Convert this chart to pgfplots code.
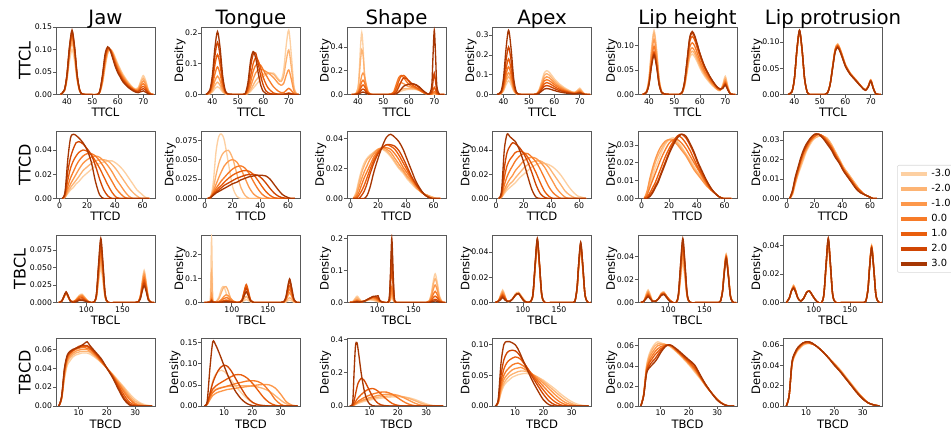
\documentclass[border=0pt]{standalone}
\usepackage{fontspec}
\setmainfont{DejaVu Sans}
\usepackage{pgfplots}
\usepackage{pgfplotstable}
\pgfplotsset{compat=1.18}
\definecolor{o1}{HTML}{FDD0A2}
\definecolor{o2}{HTML}{FDB474}
\definecolor{o3}{HTML}{FD984B}
\definecolor{o4}{HTML}{F77B28}
\definecolor{o5}{HTML}{E95E0D}
\definecolor{o6}{HTML}{D04502}
\definecolor{o7}{HTML}{A63603}

\pgfplotsset{
  kde/.style={scale only axis,width=74.25pt,height=50.6pt,anchor=north west,
    axis line style={draw=black!65,line width=0.6pt},
    tick align=outside,xtick pos=bottom,ytick pos=left,major tick length=2.3pt,
    tick style={draw=black!65,line width=0.5pt},
    tick label style={font=\fontsize{5.8}{6.5}\selectfont,inner sep=0.5pt},
    /pgf/number format/assume math mode=true,
    label style={font=\fontsize{8.7}{10}\selectfont},
    xlabel style={inner sep=1pt,yshift=-1pt},
    ylabel style={inner sep=1pt,yshift=-2pt},
    title style={font=\fontsize{14.8}{17}\selectfont,inner sep=1pt,text depth=2.5pt,yshift=-8pt},
    ymin=0,scaled y ticks=false,scaled x ticks=false,
    yticklabel style={/pgf/number format/.cd,fixed,fixed zerofill,precision=2},
    xticklabel style={/pgf/number format/.cd,fixed,precision=0},
    ylabel=Density,
    every axis plot/.append style={line width=1pt,mark=none,smooth},
    cycle list={{o1},{o2},{o3},{o4},{o5},{o6},{o7}}},
  r1/.style={xmin=35.7,xmax=74.6,xtick={40,50,60,70},xlabel=TTCL},
  r2/.style={xmin=-2.5,xmax=69,xtick={0,20,40,60},xlabel=TTCD},
  r3/.style={xmin=58,xmax=195,xtick={100,150},xlabel=TBCL},
  r4/.style={xmin=2,xmax=37,xtick={10,20,30},xlabel=TBCD},
  p1/.style={yticklabel style={/pgf/number format/precision=1}},
  p3/.style={yticklabel style={/pgf/number format/precision=3}},
  rowlab/.style={ylabel={#1},ylabel style={font=\fontsize{12}{14}\selectfont,yshift=3.25pt}},
}

% ---------- row 1: TTCL ----------
\pgfplotstableread{
x c1 c2 c3 c4 c5 c6 c7
37.5 0 0 0 0 0 0 0
39 0.007 0.008 0.009 0.009 0.009 0.01 0.01
40 0.031 0.035 0.038 0.04 0.041 0.043 0.044
41 0.074 0.086 0.093 0.097 0.1 0.104 0.106
42 0.1 0.115 0.125 0.13 0.135 0.14 0.143
43 0.074 0.086 0.093 0.097 0.1 0.104 0.106
44 0.031 0.035 0.038 0.04 0.041 0.043 0.044
45 0.007 0.008 0.009 0.009 0.009 0.01 0.01
46 0.001 0.001 0.001 0.001 0.001 0.001 0.001
48 0 0 0 0 0 0 0
52 0 0 0 0 0 0 0
53 0.005 0.006 0.007 0.008 0.008 0.009 0.01
54 0.025 0.028 0.031 0.034 0.038 0.041 0.045
55 0.06 0.065 0.07 0.075 0.08 0.085 0.09
56 0.09 0.093 0.096 0.099 0.101 0.104 0.106
57 0.1 0.1 0.1 0.1 0.1 0.099 0.098
58 0.095 0.093 0.091 0.089 0.086 0.083 0.08
59 0.082 0.079 0.076 0.073 0.069 0.066 0.062
60 0.068 0.065 0.062 0.058 0.055 0.051 0.048
61 0.056 0.053 0.05 0.047 0.044 0.041 0.038
62 0.045 0.042 0.04 0.037 0.034 0.031 0.028
64 0.028 0.026 0.024 0.022 0.02 0.018 0.016
66 0.015 0.014 0.013 0.012 0.011 0.01 0.008
67 0.012 0.011 0.01 0.009 0.008 0.007 0.005
68 0.015 0.013 0.011 0.009 0.007 0.006 0.004
69 0.03 0.026 0.022 0.018 0.014 0.01 0.006
70 0.042 0.036 0.03 0.024 0.018 0.013 0.008
71 0.03 0.026 0.022 0.017 0.013 0.009 0.005
72 0.01 0.009 0.007 0.006 0.004 0.003 0.001
73 0.001 0.001 0.001 0.001 0 0 0
74 0 0 0 0 0 0 0
}\JawA
\pgfplotstableread{
x c1 c2 c3 c4 c5 c6 c7
37.5 0 0 0 0 0 0 0
39 0.002 0.003 0.004 0.006 0.009 0.012 0.014
40 0.008 0.012 0.018 0.028 0.04 0.052 0.063
41 0.019 0.03 0.045 0.067 0.097 0.126 0.153
42 0.025 0.04 0.06 0.09 0.13 0.17 0.205
43 0.019 0.03 0.045 0.067 0.097 0.126 0.153
44 0.008 0.012 0.018 0.028 0.04 0.052 0.063
45 0.002 0.003 0.004 0.006 0.009 0.012 0.014
46 0 0 0 0.001 0.001 0.002 0.002
48 0 0 0 0 0 0 0
52 0 0 0 0 0 0 0
53 0 0 0 0.001 0.002 0.003 0.005
54 0.003 0.005 0.008 0.012 0.02 0.03 0.04
55 0.01 0.015 0.025 0.04 0.06 0.09 0.11
56 0.02 0.03 0.05 0.075 0.1 0.13 0.14
57 0.03 0.045 0.07 0.095 0.12 0.135 0.12
58 0.04 0.055 0.08 0.1 0.11 0.1 0.07
59 0.05 0.062 0.082 0.095 0.085 0.06 0.03
60 0.058 0.066 0.08 0.08 0.055 0.03 0.01
61 0.064 0.068 0.075 0.065 0.035 0.012 0.003
62 0.068 0.07 0.07 0.05 0.02 0.005 0
64 0.07 0.066 0.055 0.025 0.005 0.001 0
66 0.05 0.046 0.035 0.01 0.001 0 0
67 0.046 0.042 0.03 0.006 0.001 0 0
68 0.08 0.06 0.036 0.006 0.001 0 0
69 0.16 0.11 0.062 0.013 0.003 0.002 0.001
70 0.21 0.145 0.08 0.02 0.005 0.003 0.002
71 0.13 0.09 0.05 0.013 0.003 0.002 0.001
72 0.03 0.022 0.012 0.003 0 0 0
73 0.003 0.002 0.001 0 0 0 0
74 0 0 0 0 0 0 0
}\TonA
\pgfplotstableread{
x c1 c2 c3 c4 c5 c6 c7
37.5 0 0 0 0 0 0 0
39 0.001 0.002 0.002 0.001 0.001 0 0
40 0.052 0.051 0.024 0.016 0.011 0.006 0.003
40.5 0.187 0.148 0.059 0.039 0.026 0.015 0.007
41 0.403 0.285 0.109 0.073 0.049 0.027 0.012
41.5 0.52 0.376 0.159 0.106 0.071 0.04 0.018
42 0.403 0.334 0.18 0.12 0.08 0.045 0.02
42.5 0.187 0.201 0.159 0.106 0.071 0.04 0.018
43 0.052 0.084 0.109 0.073 0.049 0.027 0.012
44 0.001 0.004 0.024 0.016 0.011 0.006 0.003
45 0 0 0.002 0.001 0.001 0 0
48 0 0 0 0 0 0 0
52 0 0 0 0 0 0 0
53 0.001 0.001 0.002 0.004 0.002 0 0
54 0.002 0.004 0.01 0.02 0.01 0.002 0
55 0.008 0.015 0.04 0.08 0.05 0.02 0.005
56 0.018 0.03 0.08 0.14 0.11 0.06 0.02
57 0.028 0.042 0.1 0.16 0.155 0.11 0.045
58 0.035 0.048 0.09 0.14 0.16 0.14 0.07
59 0.04 0.05 0.075 0.11 0.14 0.135 0.08
60 0.042 0.05 0.065 0.085 0.11 0.115 0.085
61 0.043 0.05 0.06 0.07 0.085 0.095 0.09
62 0.043 0.048 0.055 0.06 0.07 0.085 0.088
63 0.04 0.043 0.048 0.05 0.058 0.075 0.08
64 0.035 0.035 0.038 0.038 0.045 0.06 0.065
65 0.025 0.024 0.025 0.025 0.03 0.042 0.045
66 0.015 0.013 0.013 0.012 0.015 0.022 0.025
67 0.007 0.005 0.005 0.005 0.006 0.008 0.01
68 0.003 0.002 0.002 0.001 0.002 0.002 0.003
69 0.001 0.001 0.002 0.003 0.008 0.024 0.073
69.5 0.002 0.004 0.007 0.015 0.036 0.109 0.328
70 0.003 0.006 0.012 0.025 0.06 0.18 0.54
70.5 0.002 0.004 0.007 0.015 0.036 0.109 0.328
71 0.001 0.001 0.002 0.003 0.008 0.024 0.073
72 0 0 0 0 0 0 0
73 0 0 0 0 0 0 0
74 0 0 0 0 0 0 0
}\ShaA
\pgfplotstableread{
x c1 c2 c3 c4 c5 c6 c7
37.5 0 0 0 0 0 0 0
39 0.003 0.004 0.005 0.006 0.008 0.011 0.014
40 0.017 0.022 0.027 0.035 0.045 0.06 0.081
41 0.049 0.064 0.078 0.099 0.127 0.17 0.23
42 0.07 0.09 0.11 0.14 0.18 0.24 0.325
43 0.049 0.064 0.078 0.099 0.127 0.17 0.23
44 0.017 0.022 0.027 0.035 0.045 0.06 0.081
45 0.003 0.004 0.005 0.006 0.008 0.011 0.014
46 0 0 0 0.001 0.001 0.001 0.001
48 0 0 0 0 0 0 0
52 0 0 0 0 0 0 0
53 0.004 0.003 0.003 0.002 0.002 0.001 0.001
54 0.024 0.021 0.018 0.015 0.012 0.009 0.006
55 0.066 0.058 0.05 0.041 0.033 0.025 0.017
56 0.108 0.095 0.081 0.068 0.054 0.041 0.027
57 0.12 0.105 0.09 0.075 0.06 0.045 0.03
58 0.112 0.098 0.084 0.07 0.056 0.042 0.028
59 0.096 0.084 0.072 0.06 0.048 0.036 0.024
60 0.079 0.069 0.059 0.05 0.04 0.03 0.02
61 0.065 0.057 0.049 0.041 0.032 0.024 0.016
62 0.053 0.046 0.04 0.033 0.026 0.02 0.013
64 0.034 0.029 0.025 0.021 0.017 0.013 0.008
66 0.019 0.017 0.014 0.012 0.01 0.007 0.005
67 0.013 0.012 0.01 0.008 0.007 0.005 0.003
68 0.011 0.01 0.008 0.007 0.005 0.004 0.003
69 0.02 0.017 0.014 0.011 0.008 0.006 0.004
70 0.032 0.027 0.022 0.016 0.012 0.009 0.006
71 0.015 0.012 0.01 0.007 0.005 0.004 0.003
72 0.002 0.001 0.001 0.001 0 0 0
73 0 0 0 0 0 0 0
74 0 0 0 0 0 0 0
}\ApxA
\pgfplotstableread{
x c1 c2 c3 c4 c5 c6 c7
37.5 0 0 0 0 0 0 0
39 0.006 0.006 0.005 0.004 0.004 0.004 0.004
40 0.032 0.031 0.028 0.024 0.022 0.021 0.02
41 0.092 0.088 0.079 0.069 0.062 0.059 0.057
42 0.13 0.125 0.112 0.098 0.087 0.083 0.08
43 0.092 0.088 0.079 0.069 0.062 0.059 0.057
44 0.032 0.031 0.028 0.024 0.022 0.021 0.02
45 0.006 0.006 0.005 0.004 0.004 0.004 0.004
46 0.001 0.001 0.001 0.001 0.001 0.001 0.001
48 0 0 0 0 0 0 0
52 0 0 0 0 0 0 0
53 0.002 0.003 0.003 0.003 0.004 0.004 0.004
54 0.016 0.018 0.019 0.021 0.024 0.025 0.026
55 0.045 0.048 0.052 0.058 0.065 0.069 0.07
56 0.074 0.079 0.086 0.095 0.106 0.113 0.115
57 0.082 0.088 0.095 0.105 0.118 0.125 0.128
58 0.076 0.082 0.088 0.098 0.11 0.116 0.119
59 0.066 0.07 0.076 0.084 0.094 0.1 0.102
60 0.054 0.058 0.063 0.069 0.078 0.083 0.084
61 0.044 0.048 0.051 0.057 0.064 0.068 0.069
62 0.036 0.039 0.042 0.046 0.052 0.055 0.056
64 0.023 0.025 0.027 0.029 0.033 0.035 0.036
66 0.013 0.014 0.015 0.017 0.019 0.02 0.02
67 0.009 0.01 0.01 0.012 0.013 0.014 0.014
68 0.008 0.008 0.009 0.009 0.01 0.011 0.011
69 0.02 0.018 0.016 0.015 0.014 0.013 0.012
70 0.037 0.033 0.029 0.026 0.023 0.021 0.019
71 0.017 0.015 0.013 0.012 0.011 0.01 0.009
72 0.001 0.001 0.001 0.001 0.001 0.001 0.001
73 0 0 0 0 0 0 0
74 0 0 0 0 0 0 0
}\LhA
\pgfplotstableread{
x c1 c2 c3 c4 c5 c6 c7
37.5 0 0 0 0 0 0 0
39 0.005 0.005 0.005 0.005 0.005 0.005 0.005
40 0.029 0.03 0.03 0.03 0.03 0.03 0.031
41 0.083 0.084 0.085 0.086 0.086 0.086 0.087
42 0.118 0.119 0.12 0.121 0.122 0.122 0.123
43 0.083 0.084 0.085 0.086 0.086 0.086 0.087
44 0.029 0.03 0.03 0.03 0.03 0.03 0.031
45 0.005 0.005 0.005 0.005 0.005 0.005 0.005
46 0 0 0 0 0 0 0
48 0 0 0 0 0 0 0
52 0 0 0 0 0 0 0
53 0.003 0.003 0.003 0.003 0.003 0.003 0.003
54 0.019 0.019 0.019 0.019 0.019 0.018 0.018
55 0.053 0.053 0.052 0.052 0.051 0.05 0.05
56 0.087 0.086 0.086 0.085 0.084 0.082 0.081
57 0.097 0.096 0.095 0.094 0.093 0.091 0.09
58 0.087 0.086 0.086 0.085 0.084 0.082 0.081
59 0.073 0.072 0.071 0.071 0.07 0.068 0.068
60 0.058 0.058 0.057 0.056 0.056 0.055 0.054
61 0.049 0.048 0.048 0.047 0.047 0.046 0.045
62 0.041 0.04 0.04 0.039 0.039 0.038 0.038
64 0.029 0.029 0.029 0.028 0.028 0.027 0.027
66 0.017 0.017 0.017 0.017 0.017 0.016 0.016
67 0.012 0.012 0.011 0.011 0.011 0.011 0.011
68 0.009 0.009 0.009 0.009 0.009 0.008 0.008
69 0.016 0.016 0.015 0.015 0.015 0.015 0.014
70 0.028 0.028 0.027 0.027 0.026 0.026 0.025
71 0.013 0.013 0.012 0.012 0.012 0.012 0.011
72 0.001 0.001 0.001 0.001 0.001 0.001 0.001
73 0 0 0 0 0 0 0
74 0 0 0 0 0 0 0
}\LpA

% ---------- row 2: TTCD ----------
\pgfplotstableread{
x c1 c2 c3 c4 c5 c6 c7
2 0 0 0 0 0 0 0
4 0.001 0.001 0.001 0.002 0.003 0.004 0.005
6 0.004 0.005 0.007 0.01 0.015 0.022 0.032
8 0.007 0.009 0.012 0.017 0.025 0.034 0.05
10 0.009 0.012 0.016 0.022 0.031 0.041 0.053
12 0.012 0.015 0.02 0.027 0.035 0.046 0.052
14 0.014 0.018 0.024 0.031 0.038 0.047 0.05
17 0.018 0.023 0.029 0.035 0.04 0.045 0.046
20 0.021 0.026 0.032 0.037 0.039 0.041 0.04
23 0.024 0.029 0.034 0.037 0.036 0.036 0.03
26 0.027 0.031 0.035 0.035 0.031 0.027 0.014
29 0.029 0.032 0.034 0.031 0.025 0.016 0.003
32 0.03 0.032 0.031 0.026 0.018 0.007 0
35 0.031 0.031 0.027 0.02 0.011 0.002 0
38 0.031 0.028 0.022 0.014 0.005 0 0
41 0.029 0.024 0.016 0.008 0.001 0 0
44 0.026 0.019 0.011 0.004 0 0 0
47 0.022 0.014 0.006 0.001 0 0 0
50 0.017 0.009 0.002 0 0 0 0
53 0.012 0.005 0 0 0 0 0
56 0.007 0.002 0 0 0 0 0
59 0.004 0 0 0 0 0 0
62 0.001 0 0 0 0 0 0
65 0 0 0 0 0 0 0
}\JawB
\pgfplotstableread{
x c1 c2 c3 c4 c5 c6 c7
2 0 0 0 0 0 0 0
4 0 0.002 0.002 0.001 0.001 0.001 0.001
6 0.02 0.012 0.009 0.007 0.006 0.005 0.004
8 0.06 0.03 0.018 0.013 0.01 0.008 0.007
10 0.08 0.045 0.027 0.018 0.014 0.011 0.009
12 0.083 0.055 0.035 0.023 0.017 0.014 0.011
14 0.075 0.06 0.042 0.027 0.021 0.017 0.013
17 0.045 0.062 0.048 0.033 0.026 0.02 0.016
20 0.015 0.052 0.05 0.038 0.03 0.023 0.019
23 0.003 0.032 0.047 0.041 0.033 0.026 0.021
26 0 0.014 0.038 0.042 0.035 0.028 0.024
29 0 0.004 0.026 0.039 0.036 0.03 0.026
32 0 0 0.014 0.032 0.035 0.031 0.028
35 0 0 0.006 0.022 0.031 0.031 0.029
38 0 0 0.002 0.013 0.024 0.03 0.03
41 0 0 0 0.006 0.016 0.026 0.03
44 0 0 0 0.002 0.009 0.02 0.029
47 0 0 0 0 0.004 0.013 0.025
50 0 0 0 0 0.001 0.007 0.018
53 0 0 0 0 0 0.003 0.011
56 0 0 0 0 0 0.001 0.005
59 0 0 0 0 0 0 0.002
62 0 0 0 0 0 0 0
65 0 0 0 0 0 0 0
}\TonB
\pgfplotstableread{
x c1 c2 c3 c4 c5 c6 c7
2 0 0 0 0 0 0 0
4 0.004 0.003 0.002 0.001 0 0 0
6 0.012 0.01 0.007 0.004 0.002 0 0
8 0.019 0.017 0.013 0.009 0.005 0.002 0
10 0.024 0.022 0.018 0.014 0.009 0.005 0
12 0.027 0.026 0.022 0.018 0.014 0.01 0.002
14 0.029 0.028 0.026 0.022 0.019 0.016 0.007
17 0.031 0.031 0.03 0.028 0.026 0.024 0.018
20 0.033 0.033 0.033 0.032 0.031 0.03 0.027
23 0.033 0.033 0.034 0.034 0.034 0.034 0.035
26 0.031 0.032 0.033 0.034 0.036 0.036 0.041
29 0.028 0.029 0.031 0.033 0.035 0.036 0.043
32 0.024 0.025 0.027 0.03 0.033 0.035 0.041
35 0.02 0.021 0.023 0.026 0.029 0.032 0.038
38 0.017 0.018 0.019 0.021 0.024 0.027 0.033
41 0.013 0.014 0.015 0.017 0.019 0.021 0.026
44 0.01 0.011 0.012 0.013 0.014 0.015 0.019
47 0.007 0.008 0.008 0.009 0.01 0.01 0.012
50 0.005 0.005 0.005 0.006 0.006 0.006 0.007
53 0.003 0.003 0.003 0.003 0.003 0.003 0.003
56 0.002 0.002 0.002 0.001 0.001 0.001 0.001
59 0.001 0.001 0 0 0 0 0
62 0 0 0 0 0 0 0
65 0 0 0 0 0 0 0
}\ShaB
\pgfplotstableread{
x c1 c2 c3 c4 c5 c6 c7
2 0 0 0 0 0 0 0
4 0.001 0.001 0.001 0.002 0.003 0.004 0.006
6 0.004 0.005 0.007 0.011 0.017 0.025 0.04
8 0.007 0.009 0.012 0.018 0.027 0.038 0.053
10 0.009 0.012 0.016 0.023 0.032 0.043 0.051
12 0.011 0.014 0.019 0.027 0.035 0.046 0.049
14 0.013 0.017 0.023 0.031 0.038 0.045 0.047
17 0.017 0.021 0.027 0.035 0.039 0.042 0.04
20 0.02 0.025 0.031 0.037 0.038 0.037 0.03
23 0.023 0.028 0.033 0.037 0.034 0.03 0.018
26 0.026 0.03 0.034 0.034 0.028 0.021 0.007
29 0.028 0.031 0.033 0.03 0.021 0.011 0.001
32 0.029 0.031 0.03 0.024 0.013 0.004 0
35 0.029 0.029 0.026 0.017 0.006 0.001 0
38 0.028 0.026 0.02 0.01 0.002 0 0
41 0.026 0.021 0.014 0.005 0 0 0
44 0.023 0.016 0.008 0.002 0 0 0
47 0.019 0.011 0.004 0 0 0 0
50 0.014 0.006 0.001 0 0 0 0
53 0.009 0.003 0 0 0 0 0
56 0.005 0.001 0 0 0 0 0
59 0.002 0 0 0 0 0 0
62 0.001 0 0 0 0 0 0
65 0 0 0 0 0 0 0
}\ApxB
\pgfplotstableread{
x c1 c2 c3 c4 c5 c6 c7
2 0 0 0 0 0 0 0
4 0.002 0.003 0.004 0.002 0.001 0 0
6 0.007 0.009 0.011 0.006 0.003 0.002 0.001
8 0.012 0.015 0.017 0.01 0.006 0.004 0.003
10 0.017 0.02 0.022 0.014 0.009 0.007 0.006
12 0.021 0.024 0.026 0.018 0.013 0.01 0.009
14 0.025 0.027 0.029 0.022 0.017 0.014 0.013
17 0.03 0.031 0.032 0.027 0.023 0.02 0.019
20 0.033 0.033 0.033 0.031 0.028 0.026 0.025
23 0.034 0.033 0.032 0.033 0.032 0.031 0.03
26 0.032 0.031 0.03 0.033 0.035 0.035 0.034
29 0.029 0.028 0.027 0.031 0.034 0.036 0.036
32 0.025 0.025 0.024 0.028 0.031 0.034 0.035
35 0.022 0.021 0.02 0.024 0.027 0.03 0.031
38 0.018 0.017 0.016 0.02 0.022 0.025 0.026
41 0.014 0.014 0.013 0.016 0.017 0.019 0.02
44 0.011 0.011 0.01 0.012 0.013 0.014 0.015
47 0.008 0.008 0.007 0.008 0.009 0.01 0.01
50 0.005 0.005 0.005 0.005 0.005 0.006 0.006
53 0.003 0.003 0.003 0.003 0.003 0.003 0.003
56 0.001 0.001 0.001 0.001 0.001 0.001 0.001
59 0 0 0 0 0 0 0
62 0 0 0 0 0 0 0
65 0 0 0 0 0 0 0
}\LhB
\pgfplotstableread{
x c1 c2 c3 c4 c5 c6 c7
2 0 0 0 0 0 0 0
4 0.002 0.002 0.003 0.003 0.003 0.004 0.004
6 0.007 0.008 0.008 0.009 0.01 0.01 0.011
8 0.012 0.013 0.013 0.014 0.015 0.015 0.016
10 0.016 0.017 0.018 0.019 0.02 0.02 0.021
12 0.02 0.021 0.022 0.023 0.024 0.024 0.025
14 0.024 0.025 0.025 0.026 0.027 0.027 0.028
17 0.028 0.029 0.029 0.03 0.03 0.031 0.031
20 0.031 0.031 0.032 0.032 0.032 0.033 0.033
23 0.032 0.032 0.033 0.033 0.033 0.033 0.033
26 0.032 0.032 0.032 0.032 0.032 0.031 0.031
29 0.031 0.031 0.03 0.03 0.029 0.029 0.028
32 0.028 0.028 0.027 0.027 0.026 0.026 0.025
35 0.024 0.024 0.023 0.023 0.022 0.022 0.021
38 0.02 0.02 0.019 0.019 0.019 0.018 0.018
41 0.016 0.016 0.015 0.015 0.015 0.014 0.014
44 0.013 0.013 0.012 0.012 0.012 0.011 0.011
47 0.01 0.01 0.009 0.009 0.009 0.008 0.008
50 0.007 0.007 0.006 0.006 0.006 0.005 0.005
53 0.004 0.004 0.004 0.004 0.004 0.003 0.003
56 0.002 0.002 0.002 0.002 0.002 0.002 0.002
59 0.001 0.001 0.001 0.001 0.001 0.001 0.001
62 0 0 0 0 0 0 0
65 0 0 0 0 0 0 0
}\LpB

% ---------- row 3: TBCL ----------
\pgfplotstableread{
x c1 c2 c3 c4 c5 c6 c7
62 0 0 0 0 0 0 0
66 0.002 0.002 0.002 0.002 0.002 0.002 0.002
69 0.007 0.008 0.008 0.008 0.008 0.009 0.009
72 0.012 0.013 0.013 0.014 0.014 0.015 0.015
75 0.007 0.008 0.008 0.008 0.008 0.009 0.009
78 0.002 0.002 0.002 0.002 0.002 0.002 0.002
82 0.001 0.001 0.001 0.001 0.001 0 0
86 0.005 0.004 0.004 0.003 0.003 0.002 0.001
90 0.01 0.009 0.008 0.008 0.006 0.004 0.003
94 0.012 0.011 0.01 0.009 0.007 0.005 0.003
98 0.007 0.007 0.006 0.005 0.004 0.003 0.002
102 0.002 0.002 0.002 0.002 0.001 0.001 0.001
106 0 0 0 0 0 0 0
111 0.001 0.001 0.001 0.001 0.001 0.001 0.001
114 0.007 0.008 0.009 0.01 0.011 0.012 0.012
117 0.03 0.035 0.039 0.044 0.049 0.053 0.056
120 0.05 0.058 0.065 0.072 0.08 0.088 0.092
123 0.03 0.035 0.039 0.044 0.049 0.053 0.056
126 0.007 0.008 0.009 0.01 0.011 0.012 0.012
130 0 0 0 0 0 0 0
140 0 0 0 0 0 0 0
160 0 0 0 0 0 0 0
168 0 0 0 0 0 0 0
172 0.001 0.001 0.001 0.001 0.001 0.001 0.001
175 0.011 0.011 0.01 0.009 0.008 0.007 0.006
177 0.028 0.026 0.024 0.022 0.019 0.017 0.015
180 0.046 0.043 0.04 0.036 0.032 0.028 0.024
183 0.028 0.026 0.024 0.022 0.019 0.017 0.015
186 0.006 0.006 0.005 0.005 0.004 0.004 0.003
190 0 0 0 0 0 0 0
194 0 0 0 0 0 0 0
}\JawC
\pgfplotstableread{
x c1 c2 c3 c4 c5 c6 c7
62 0 0 0 0 0 0 0
66 0 0 0 0 0 0 0
69 0.001 0.001 0.002 0.002 0.001 0.001 0.001
70.5 0.027 0.013 0.006 0.004 0.003 0.002 0.001
72 0.268 0.125 0.035 0.015 0.01 0.008 0.005
73.5 0.027 0.013 0.006 0.004 0.003 0.002 0.001
75 0.002 0.002 0.002 0.002 0.001 0.001 0.001
78 0.003 0.002 0.001 0.001 0 0 0
82 0.022 0.015 0.004 0.003 0.001 0.001 0
86 0.06 0.045 0.014 0.01 0.005 0.002 0.001
89 0.066 0.064 0.025 0.016 0.008 0.004 0.002
92 0.041 0.066 0.032 0.02 0.01 0.005 0.003
95 0.015 0.048 0.029 0.018 0.009 0.004 0.002
98 0.003 0.02 0.018 0.011 0.005 0.003 0.002
102 0 0.005 0.006 0.004 0.002 0.001 0.001
106 0 0.001 0.001 0.001 0 0 0
111 0 0 0.001 0.001 0.001 0.001 0
114 0.002 0.003 0.006 0.009 0.01 0.008 0.006
117 0.007 0.015 0.027 0.042 0.046 0.036 0.027
120 0.012 0.025 0.045 0.07 0.075 0.06 0.045
123 0.007 0.015 0.027 0.042 0.046 0.036 0.027
126 0.002 0.003 0.006 0.009 0.01 0.008 0.006
130 0 0 0 0 0 0 0
140 0 0 0 0 0 0 0
160 0 0 0 0 0 0 0
168 0 0 0 0 0 0 0
172 0 0.001 0.001 0.002 0.002 0.003 0.003
175 0.002 0.005 0.01 0.014 0.017 0.022 0.024
177 0.006 0.012 0.024 0.033 0.042 0.053 0.059
180 0.01 0.02 0.04 0.055 0.07 0.088 0.098
183 0.006 0.012 0.024 0.033 0.042 0.053 0.059
186 0.001 0.003 0.005 0.007 0.009 0.012 0.013
190 0 0 0 0 0 0 0
194 0 0 0 0 0 0 0
}\TonC
\pgfplotstableread{
x c1 c2 c3 c4 c5 c6 c7
62 0.001 0.001 0 0 0 0 0
66 0.003 0.002 0.001 0.001 0.001 0 0
69 0.012 0.009 0.006 0.004 0.002 0.002 0.001
72 0.02 0.015 0.01 0.006 0.004 0.003 0.002
75 0.012 0.009 0.006 0.004 0.003 0.002 0.001
78 0.004 0.004 0.003 0.002 0.002 0.002 0.002
82 0.003 0.004 0.004 0.004 0.004 0.004 0.004
86 0.006 0.007 0.008 0.008 0.009 0.009 0.009
90 0.008 0.01 0.011 0.012 0.013 0.014 0.014
94 0.007 0.009 0.012 0.015 0.017 0.018 0.019
98 0.004 0.006 0.009 0.012 0.015 0.018 0.02
101 0.002 0.003 0.005 0.007 0.01 0.014 0.021
104 0.001 0.001 0.002 0.003 0.004 0.005 0.004
110 0 0 0 0 0 0 0
116 0 0.001 0.001 0.001 0.003 0.005 0.006
118 0.006 0.009 0.014 0.021 0.045 0.068 0.083
120 0.015 0.022 0.035 0.05 0.11 0.165 0.202
122 0.006 0.009 0.014 0.021 0.045 0.068 0.083
124 0 0.001 0.001 0.001 0.003 0.005 0.006
130 0 0 0 0 0 0 0
140 0 0 0 0 0 0 0
160 0 0 0 0 0 0 0
168 0 0 0 0 0 0 0
172 0.007 0.005 0.004 0.003 0.001 0.001 0
175 0.032 0.027 0.02 0.013 0.007 0.004 0.002
177 0.062 0.052 0.038 0.024 0.014 0.007 0.003
180 0.09 0.075 0.055 0.035 0.02 0.01 0.005
183 0.062 0.052 0.038 0.024 0.014 0.007 0.003
186 0.021 0.017 0.013 0.008 0.005 0.002 0.001
190 0.002 0.001 0.001 0.001 0 0 0
194 0 0 0 0 0 0 0
}\ShaC
\pgfplotstableread{
x c1 c2 c3 c4 c5 c6 c7
62 0 0 0 0 0 0 0
66 0.001 0.001 0.001 0.001 0.001 0.001 0.001
69 0.006 0.005 0.005 0.004 0.004 0.003 0.002
72 0.01 0.009 0.008 0.007 0.006 0.005 0.004
75 0.006 0.005 0.005 0.004 0.004 0.003 0.002
78 0.001 0.001 0.001 0.001 0.001 0.001 0.001
82 0.001 0.001 0.001 0.001 0.001 0.001 0.001
86 0.003 0.003 0.003 0.003 0.003 0.003 0.003
90 0.007 0.007 0.006 0.006 0.006 0.006 0.006
94 0.008 0.008 0.007 0.007 0.007 0.007 0.007
98 0.005 0.005 0.004 0.004 0.004 0.004 0.004
102 0.002 0.002 0.001 0.001 0.001 0.001 0.001
106 0 0 0 0 0 0 0
111 0.001 0.001 0.001 0.001 0.001 0.001 0.001
114 0.006 0.006 0.006 0.006 0.007 0.007 0.007
117 0.027 0.028 0.029 0.029 0.03 0.03 0.031
120 0.045 0.046 0.047 0.048 0.049 0.05 0.051
123 0.027 0.028 0.029 0.029 0.03 0.03 0.031
126 0.006 0.006 0.006 0.006 0.007 0.007 0.007
130 0 0 0 0 0 0 0
140 0 0 0 0 0 0 0
160 0 0 0 0 0 0 0
168 0 0 0 0 0 0 0
172 0.001 0.001 0.001 0.001 0.001 0.001 0.001
175 0.01 0.011 0.011 0.011 0.011 0.012 0.012
177 0.025 0.026 0.027 0.027 0.028 0.029 0.029
180 0.042 0.043 0.044 0.045 0.046 0.047 0.048
183 0.025 0.026 0.027 0.027 0.028 0.029 0.029
186 0.006 0.006 0.006 0.006 0.006 0.006 0.006
190 0 0 0 0 0 0 0
194 0 0 0 0 0 0 0
}\ApxC
\pgfplotstableread{
x c1 c2 c3 c4 c5 c6 c7
62 0 0 0 0 0 0 0
66 0.001 0.001 0.001 0.001 0.001 0.001 0.001
69 0.007 0.006 0.005 0.005 0.004 0.004 0.003
72 0.011 0.01 0.009 0.008 0.007 0.006 0.005
75 0.007 0.006 0.005 0.005 0.004 0.004 0.003
78 0.002 0.001 0.001 0.001 0.001 0.001 0.001
82 0.001 0.001 0.001 0.001 0.001 0.001 0.001
86 0.003 0.003 0.003 0.003 0.003 0.003 0.003
90 0.008 0.008 0.007 0.007 0.007 0.006 0.006
94 0.009 0.009 0.008 0.008 0.008 0.007 0.007
98 0.005 0.005 0.005 0.005 0.005 0.004 0.004
102 0.002 0.002 0.002 0.002 0.002 0.001 0.001
106 0 0 0 0 0 0 0
111 0 0 0 0 0 0 0
114 0.005 0.005 0.006 0.006 0.007 0.007 0.008
117 0.021 0.023 0.025 0.028 0.03 0.033 0.034
120 0.035 0.038 0.042 0.046 0.05 0.054 0.056
123 0.021 0.023 0.025 0.028 0.03 0.033 0.034
126 0.005 0.005 0.006 0.006 0.007 0.007 0.008
130 0 0 0 0 0 0 0
140 0 0 0 0 0 0 0
160 0 0 0 0 0 0 0
168 0 0 0 0 0 0 0
172 0.001 0.001 0.001 0.001 0.001 0.001 0.001
175 0.01 0.01 0.01 0.01 0.01 0.01 0.009
177 0.025 0.025 0.025 0.024 0.024 0.024 0.023
180 0.042 0.042 0.041 0.04 0.04 0.039 0.038
183 0.025 0.025 0.025 0.024 0.024 0.024 0.023
186 0.006 0.006 0.006 0.005 0.005 0.005 0.005
190 0 0 0 0 0 0 0
194 0 0 0 0 0 0 0
}\LhC
\pgfplotstableread{
x c1 c2 c3 c4 c5 c6 c7
62 0 0 0 0 0 0 0
66 0.003 0.003 0.003 0.003 0.003 0.003 0.003
69 0.008 0.008 0.008 0.008 0.008 0.008 0.008
72 0.012 0.012 0.011 0.011 0.011 0.01 0.01
75 0.008 0.008 0.008 0.008 0.008 0.007 0.007
78 0.003 0.003 0.003 0.003 0.003 0.003 0.003
82 0.001 0.001 0.001 0.001 0.001 0.001 0.001
86 0.003 0.003 0.003 0.003 0.003 0.003 0.003
90 0.007 0.007 0.007 0.007 0.007 0.007 0.007
94 0.008 0.008 0.008 0.008 0.008 0.008 0.008
98 0.005 0.005 0.005 0.005 0.005 0.005 0.005
102 0.002 0.002 0.002 0.002 0.002 0.002 0.002
106 0 0 0 0 0 0 0
111 0 0 0 0 0 0 0
114 0.005 0.006 0.006 0.006 0.006 0.006 0.006
117 0.024 0.025 0.025 0.026 0.027 0.027 0.027
120 0.04 0.041 0.042 0.043 0.044 0.045 0.045
123 0.024 0.025 0.025 0.026 0.027 0.027 0.027
126 0.005 0.006 0.006 0.006 0.006 0.006 0.006
130 0 0 0 0 0 0 0
140 0 0 0 0 0 0 0
160 0 0 0 0 0 0 0
168 0 0 0 0 0 0 0
172 0.001 0.001 0.001 0.001 0.001 0.001 0.001
175 0.01 0.01 0.01 0.01 0.01 0.009 0.009
177 0.024 0.024 0.024 0.024 0.024 0.023 0.023
180 0.04 0.04 0.039 0.039 0.039 0.038 0.038
183 0.024 0.024 0.024 0.024 0.024 0.023 0.023
186 0.005 0.005 0.005 0.005 0.005 0.005 0.005
190 0 0 0 0 0 0 0
194 0 0 0 0 0 0 0
}\LpC

% ---------- row 4: TBCD ----------
\pgfplotstableread{
x c1 c2 c3 c4 c5 c6 c7
3 0 0 0 0 0 0 0
4 0.007 0.008 0.008 0.009 0.009 0.01 0.01
5 0.029 0.031 0.033 0.035 0.037 0.039 0.04
6 0.043 0.046 0.048 0.05 0.052 0.053 0.054
7 0.048 0.051 0.053 0.055 0.056 0.057 0.058
8 0.052 0.054 0.056 0.058 0.059 0.059 0.06
9 0.054 0.056 0.058 0.06 0.061 0.061 0.061
10 0.055 0.057 0.059 0.061 0.062 0.063 0.062
11 0.056 0.058 0.06 0.062 0.063 0.064 0.064
12 0.056 0.058 0.06 0.062 0.063 0.064 0.066
13 0.056 0.058 0.06 0.061 0.063 0.064 0.068
14 0.055 0.057 0.058 0.06 0.061 0.062 0.064
16 0.051 0.052 0.053 0.054 0.055 0.056 0.057
18 0.046 0.046 0.047 0.047 0.048 0.049 0.05
20 0.04 0.04 0.04 0.04 0.04 0.04 0.04
22 0.034 0.033 0.033 0.032 0.032 0.031 0.03
24 0.027 0.026 0.025 0.024 0.022 0.02 0.018
26 0.02 0.019 0.017 0.015 0.012 0.009 0.007
28 0.013 0.011 0.009 0.007 0.004 0.002 0.001
30 0.007 0.005 0.003 0.002 0.001 0 0
32 0.003 0.002 0.001 0 0 0 0
34 0.001 0 0 0 0 0 0
36 0 0 0 0 0 0 0
}\JawD
\pgfplotstableread{
x c1 c2 c3 c4 c5 c6 c7
3 0 0 0 0 0 0 0
4 0.005 0.004 0.003 0.004 0.005 0.006 0.01
5 0.03 0.02 0.015 0.02 0.025 0.03 0.09
6 0.06 0.033 0.025 0.032 0.04 0.055 0.152
7 0.075 0.039 0.03 0.038 0.047 0.072 0.145
8 0.082 0.042 0.033 0.041 0.052 0.085 0.13
9 0.085 0.044 0.035 0.043 0.056 0.093 0.113
10 0.082 0.045 0.037 0.045 0.06 0.097 0.095
11 0.075 0.046 0.039 0.047 0.064 0.095 0.078
12 0.066 0.047 0.04 0.049 0.068 0.088 0.062
13 0.057 0.047 0.041 0.051 0.071 0.078 0.048
14 0.048 0.048 0.042 0.053 0.074 0.066 0.035
16 0.032 0.048 0.044 0.056 0.074 0.043 0.017
18 0.018 0.048 0.046 0.059 0.067 0.022 0.006
20 0.008 0.047 0.048 0.06 0.054 0.009 0.001
22 0.003 0.045 0.05 0.058 0.037 0.003 0
24 0.001 0.041 0.051 0.05 0.02 0.001 0
26 0 0.035 0.05 0.035 0.008 0 0
28 0 0.025 0.043 0.016 0.002 0 0
30 0 0.014 0.028 0.004 0 0 0
32 0 0.005 0.01 0 0 0 0
34 0 0.001 0.002 0 0 0 0
36 0 0 0 0 0 0 0
}\TonD
\pgfplotstableread{
x c1 c2 c3 c4 c5 c6 c7
3 0 0 0 0 0 0 0
4 0.001 0.001 0.002 0.002 0.003 0.005 0.02
4.5 0.004 0.005 0.006 0.008 0.012 0.03 0.2
5 0.008 0.01 0.012 0.015 0.025 0.07 0.36
5.5 0.012 0.015 0.018 0.022 0.04 0.11 0.38
6 0.016 0.02 0.023 0.03 0.05 0.14 0.33
7 0.022 0.027 0.031 0.04 0.068 0.165 0.2
8 0.027 0.033 0.038 0.05 0.083 0.155 0.1
9 0.031 0.038 0.044 0.058 0.095 0.125 0.04
10 0.035 0.042 0.05 0.065 0.102 0.09 0.012
11 0.039 0.046 0.055 0.071 0.105 0.058 0.002
12 0.042 0.05 0.059 0.076 0.1 0.033 0
13 0.045 0.053 0.063 0.08 0.088 0.016 0
14 0.047 0.055 0.066 0.083 0.072 0.007 0
16 0.051 0.059 0.07 0.083 0.04 0.001 0
18 0.054 0.061 0.07 0.07 0.015 0 0
20 0.055 0.06 0.064 0.048 0.004 0 0
22 0.054 0.055 0.05 0.026 0 0 0
24 0.049 0.045 0.033 0.01 0 0 0
26 0.039 0.032 0.017 0.002 0 0 0
28 0.026 0.018 0.006 0 0 0 0
30 0.013 0.007 0.001 0 0 0 0
32 0.004 0.002 0 0 0 0 0
34 0.001 0 0 0 0 0 0
36 0 0 0 0 0 0 0
}\ShaD
\pgfplotstableread{
x c1 c2 c3 c4 c5 c6 c7
3 0 0 0 0 0 0 0
4 0.004 0.005 0.005 0.006 0.007 0.008 0.01
5 0.021 0.024 0.028 0.033 0.04 0.05 0.07
6 0.033 0.037 0.043 0.05 0.06 0.075 0.1
7 0.039 0.044 0.05 0.058 0.07 0.086 0.105
8 0.043 0.049 0.055 0.063 0.075 0.09 0.105
9 0.047 0.052 0.059 0.067 0.078 0.091 0.103
10 0.049 0.054 0.061 0.069 0.08 0.09 0.1
11 0.051 0.056 0.062 0.07 0.079 0.086 0.093
12 0.052 0.057 0.063 0.068 0.076 0.08 0.083
13 0.053 0.057 0.061 0.065 0.07 0.072 0.072
14 0.053 0.056 0.058 0.061 0.064 0.064 0.062
16 0.051 0.052 0.052 0.052 0.051 0.048 0.042
18 0.047 0.047 0.045 0.042 0.038 0.033 0.025
20 0.042 0.04 0.037 0.032 0.026 0.019 0.01
22 0.035 0.032 0.028 0.022 0.015 0.008 0.002
24 0.028 0.024 0.019 0.013 0.007 0.002 0
26 0.02 0.016 0.011 0.006 0.002 0 0
28 0.013 0.009 0.005 0.002 0 0 0
30 0.007 0.004 0.002 0 0 0 0
32 0.003 0.001 0 0 0 0 0
34 0.001 0 0 0 0 0 0
36 0 0 0 0 0 0 0
}\ApxD
\pgfplotstableread{
x c1 c2 c3 c4 c5 c6 c7
3 0 0 0 0 0 0 0
4 0.012 0.012 0.011 0.011 0.011 0.01 0.01
5 0.04 0.039 0.037 0.036 0.035 0.033 0.032
6 0.052 0.05 0.048 0.045 0.043 0.04 0.038
7 0.058 0.056 0.053 0.05 0.047 0.044 0.041
8 0.062 0.06 0.057 0.054 0.051 0.047 0.044
9 0.064 0.062 0.06 0.057 0.054 0.051 0.048
10 0.063 0.062 0.061 0.059 0.057 0.055 0.053
11 0.062 0.062 0.061 0.06 0.059 0.058 0.057
12 0.061 0.061 0.061 0.061 0.061 0.06 0.06
13 0.06 0.06 0.06 0.061 0.061 0.061 0.061
14 0.058 0.058 0.059 0.059 0.06 0.06 0.06
16 0.053 0.053 0.054 0.054 0.055 0.055 0.056
18 0.047 0.048 0.048 0.049 0.049 0.05 0.051
20 0.041 0.042 0.042 0.043 0.044 0.045 0.046
22 0.034 0.035 0.036 0.037 0.038 0.04 0.041
24 0.027 0.028 0.028 0.029 0.029 0.03 0.031
26 0.02 0.02 0.02 0.02 0.021 0.021 0.021
28 0.013 0.013 0.013 0.013 0.013 0.013 0.013
30 0.007 0.007 0.007 0.007 0.006 0.006 0.006
32 0.002 0.002 0.002 0.002 0.002 0.002 0.002
34 0 0 0 0 0 0 0
36 0 0 0 0 0 0 0
}\LhD
\pgfplotstableread{
x c1 c2 c3 c4 c5 c6 c7
3 0 0 0 0 0 0 0
4 0.01 0.01 0.01 0.01 0.01 0.01 0.01
5 0.04 0.04 0.041 0.041 0.042 0.042 0.043
6 0.049 0.05 0.05 0.051 0.051 0.052 0.052
7 0.054 0.055 0.055 0.056 0.056 0.057 0.057
8 0.057 0.058 0.058 0.059 0.059 0.06 0.06
9 0.06 0.06 0.061 0.061 0.062 0.062 0.062
10 0.061 0.061 0.062 0.062 0.062 0.063 0.063
11 0.061 0.062 0.062 0.062 0.062 0.063 0.063
12 0.061 0.061 0.061 0.061 0.061 0.062 0.062
13 0.06 0.06 0.06 0.06 0.06 0.06 0.06
14 0.058 0.058 0.058 0.058 0.058 0.058 0.058
16 0.053 0.053 0.053 0.053 0.053 0.053 0.053
18 0.047 0.047 0.047 0.047 0.047 0.047 0.047
20 0.042 0.041 0.041 0.041 0.041 0.04 0.04
22 0.036 0.035 0.035 0.035 0.034 0.034 0.034
24 0.029 0.028 0.028 0.028 0.027 0.027 0.027
26 0.022 0.021 0.021 0.021 0.02 0.02 0.02
28 0.015 0.014 0.014 0.014 0.013 0.013 0.013
30 0.008 0.008 0.008 0.008 0.007 0.007 0.007
32 0.003 0.003 0.003 0.003 0.003 0.003 0.003
34 0.001 0.001 0.001 0.001 0.001 0.001 0.001
36 0 0 0 0 0 0 0
}\LpD

\newcommand{\panel}[4]{%
  \begin{axis}[kde,at={(#1)},#2]
  \pgfplotsinvokeforeach{1,...,7}{\addplot table[x=x,y=c##1]{#3};}
  #4
  \end{axis}}

\begin{document}
\begin{tikzpicture}
\useasboundingbox (0,0) rectangle (713.25pt,325.5pt);
% row 1
\panel{42pt,305.25pt}{r1,rowlab=TTCL,title=Jaw,ymax=0.15,ytick={0,0.05,0.1,0.15}}{\JawA}{}
\panel{151.1pt,305.25pt}{r1,title=Tongue,ymax=0.22,ytick={0,0.1,0.2},p1}{\TonA}{}
\panel{260.25pt,305.25pt}{r1,title=Shape,ymax=0.567,ytick={0,0.2,0.4},p1}{\ShaA}{}
\panel{369.4pt,305.25pt}{r1,title=Apex,ymax=0.341,ytick={0,0.1,0.2,0.3},p1}{\ApxA}{}
\panel{478.5pt,305.25pt}{r1,title=Lip height,ymax=0.137,ytick={0,0.05,0.1}}{\LhA}{}
\panel{587.6pt,305.25pt}{r1,title=Lip protrusion,ymax=0.129,ytick={0,0.05,0.1}}{\LpA}{}
% row 2
\panel{42pt,227.25pt}{r2,rowlab=TTCD,ymax=0.0557,ytick={0,0.02,0.04}}{\JawB}{}
\panel{151.1pt,227.25pt}{r2,ymax=0.087,ytick={0,0.025,0.05,0.075},p3}{\TonB}{}
\panel{260.25pt,227.25pt}{r2,ymax=0.0452,ytick={0,0.02,0.04}}{\ShaB}{}
\panel{369.4pt,227.25pt}{r2,ymax=0.0557,ytick={0,0.02,0.04}}{\ApxB}{}
\panel{478.5pt,227.25pt}{r2,ymax=0.0378,ytick={0,0.01,0.02,0.03}}{\LhB}{}
\panel{587.6pt,227.25pt}{r2,ymax=0.0347,ytick={0,0.01,0.02,0.03},
  legend style={at={(1.147,0.496)},anchor=north west,fill=white,draw=black!15,
    rounded corners=1.5pt,font=\fontsize{7.4}{8}\selectfont,inner xsep=1pt,inner ysep=1pt,
    row sep=0pt,nodes={inner sep=2.1pt,text height=5.6pt,text depth=1.4pt}},
  legend cell align=left,
  legend image code/.code={\draw[line width=3pt] (0pt,0pt) -- (19.5pt,0pt);}}{\LpB}
  {\legend{-3.0,-2.0,-1.0,0.0,1.0,2.0,3.0}}
% row 3
\panel{42pt,149.25pt}{r3,rowlab=TBCL,ymax=0.0966,ytick={0,0.025,0.05,0.075},p3}{\JawC}{}
\panel{151.1pt,149.25pt}{r3,ymax=0.281,ytick={0,0.1,0.2},p1}{\TonC}{}
\panel{260.25pt,149.25pt}{r3,ymax=0.212,ytick={0,0.1,0.2},p1}{\ShaC}{}
\panel{369.4pt,149.25pt}{r3,ymax=0.0536,ytick={0,0.02,0.04}}{\ApxC}{}
\panel{478.5pt,149.25pt}{r3,ymax=0.0588,ytick={0,0.02,0.04}}{\LhC}{}
\panel{587.6pt,149.25pt}{r3,ymax=0.0473,ytick={0,0.02,0.04}}{\LpC}{}
% row 4
\panel{42pt,71.6pt}{r4,rowlab=TBCD,ymax=0.0714,ytick={0,0.02,0.04,0.06}}{\JawD}{}
\panel{151.1pt,71.6pt}{r4,ymax=0.16,ytick={0,0.05,0.1,0.15}}{\TonD}{}
\panel{260.25pt,71.6pt}{r4,ymax=0.404,ytick={0,0.2,0.4},p1}{\ShaD}{}
\panel{369.4pt,71.6pt}{r4,ymax=0.11,ytick={0,0.05,0.1}}{\ApxD}{}
\panel{478.5pt,71.6pt}{r4,ymax=0.0672,ytick={0,0.02,0.04,0.06}}{\LhD}{}
\panel{587.6pt,71.6pt}{r4,ymax=0.0662,ytick={0,0.02,0.04,0.06}}{\LpD}{}
\end{tikzpicture}
\end{document}
